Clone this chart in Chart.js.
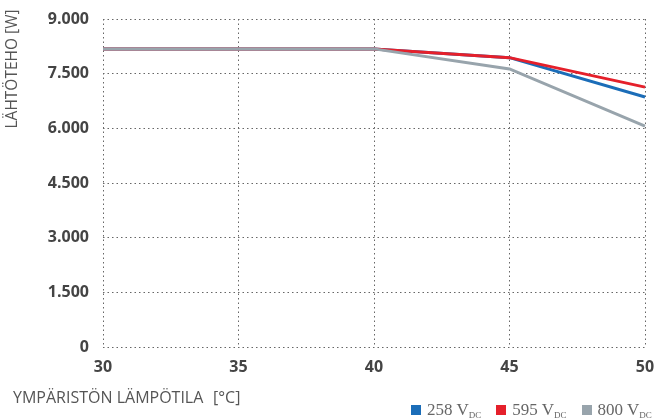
<!DOCTYPE html>
<html><head><meta charset="utf-8">
<script src="https://cdn.jsdelivr.net/npm/chart.js@4"></script>
<style>
html,body{margin:0;padding:0;background:#fff;}
#wrap{position:relative;width:655px;height:420px;}
#legend{position:absolute;left:411px;top:400px;font-family:"Liberation Serif","DejaVu Serif",serif;font-size:17px;color:#666;white-space:nowrap;}
#legend span.item{display:inline-block;margin-right:15px;}
#legend i{display:inline-block;width:10px;height:10px;margin-right:6px;vertical-align:0px;}
#legend sub{font-size:9px;vertical-align:-3px;}
</style></head>
<body><div id="wrap"><canvas id="c" width="655" height="420"></canvas>
<div id="legend"></div></div>
<script>
const categories = ['30','35','40','45','50'];
const seriesNames = ['258 V', '595 V', '800 V'];
const series258 = [8180, 8180, 8180, 7940, 6860];
const series595 = [8180, 8180, 8180, 7940, 7130];
const series800 = [8180, 8180, 8180, 7630, 6060];
const colors = ['#1b6db8', '#e5202b', '#98a4ac'];
const yTicks = [0, 1500, 3000, 4500, 6000, 7500, 9000];
const xTitle = 'YMPÄRISTÖN LÄMPÖTILA';
const xUnit = '[°C]';
const yTitle = 'LÄHTÖTEHO [W]';

const leg = document.getElementById('legend');
seriesNames.forEach((n,i)=>{
  const s=document.createElement('span');s.className='item';
  s.innerHTML='<i style="background:'+colors[i]+'"></i>'+n+'<sub>DC</sub>';
  leg.appendChild(s);
});

const titles = {
  id:'titles',
  afterDraw(chart){
    const ctx=chart.ctx;ctx.save();
    ctx.fillStyle='#555';ctx.font='16px "Open Sans", sans-serif';
    ctx.textBaseline='middle';ctx.textAlign='left';
    ctx.fillText(xTitle,13,398);
    ctx.fillText(xUnit,213,398);
    ctx.font='15.5px "Open Sans", sans-serif';
    ctx.translate(13,69);ctx.rotate(-Math.PI/2);ctx.textAlign='center';
    ctx.fillText(yTitle,0,0);
    ctx.restore();
  }
};
const fmt = v => String(v).replace(/\B(?=(\d{3})+(?!\d))/g,'.');
const grid = {color:'#666',lineWidth:1,drawTicks:false};
const tickFont = {family:'"Open Sans", sans-serif',size:16,weight:'bold'};
new Chart(document.getElementById('c'),{
  type:'line',
  data:{labels:categories,datasets:[
    {data:series258,borderColor:colors[0],order:3},
    {data:series595,borderColor:colors[1],order:2},
    {data:series800,borderColor:colors[2],order:1}
  ].map(d=>Object.assign(d,{borderWidth:3,pointRadius:0,tension:0,fill:false}))},
  options:{
    responsive:false,animation:false,
    layout:{padding:{left:0,right:10,top:19,bottom:0}},
    plugins:{legend:{display:false},tooltip:{enabled:false}},
    scales:{
      x:{offset:false,grid:grid,border:{display:false,dash:[1.5,3]},
        ticks:{color:'#444',font:tickFont,padding:11,maxRotation:0,autoSkip:false},
        afterFit(s){s.height=73;s.paddingLeft=0;s.paddingRight=0;}},
      y:{min:0,max:9000,grid:grid,border:{display:false,dash:[1.5,3]},
        afterBuildTicks(s){s.ticks=yTicks.map(v=>({value:v}));},
        ticks:{color:'#444',font:tickFont,padding:14,callback:v=>fmt(v)},
        afterFit(s){s.width=103;s.paddingTop=0;s.paddingBottom=0;}}
    }
  },
  plugins:[titles]
});
</script></body></html>
